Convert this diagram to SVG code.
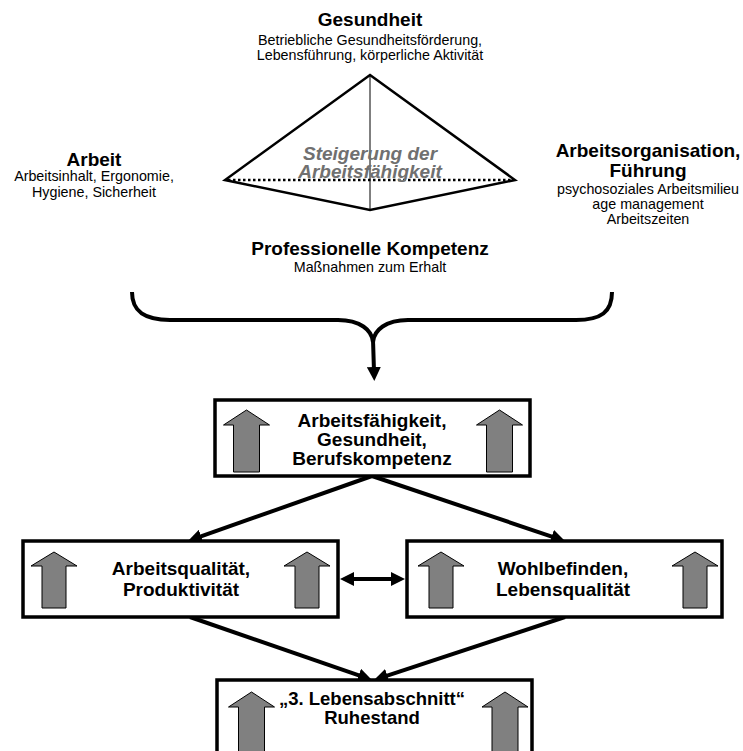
<svg xmlns="http://www.w3.org/2000/svg" xmlns:xlink="http://www.w3.org/1999/xlink" width="743" height="751" viewBox="0 0 743 751">
<style>
text{font-family:"Liberation Sans",Arial,sans-serif;text-anchor:middle;fill:#000}
.h{font-weight:bold;font-size:19px}
.s{font-size:14.3px}
.b{font-weight:bold;font-size:19px}
.st{font-weight:bold;font-style:italic;font-size:19px;fill:#707070}
.box{fill:#fff;stroke:#000;stroke-width:3.5}
.con{fill:none;stroke:#000;stroke-width:4}
.ga{fill:#808080;stroke:#000;stroke-width:1}
</style>
<defs>
<marker id="ah" viewBox="0 0 14 14" refX="4" refY="7" markerWidth="14" markerHeight="14" markerUnits="userSpaceOnUse" orient="auto-start-reverse">
<path d="M0,0 L14,7 L0,14 Z" fill="#000"/>
</marker>
<path id="upM" class="ga" d="M0,0 L23,14 L12,14 L12,56 L-12,56 L-12,14 L-23,14 Z"/>
<path id="upL" class="ga" d="M0,0 L23,15 L13,15 L13,62 L-13,62 L-13,15 L-23,15 Z"/>
</defs>
<rect width="743" height="751" fill="#fff"/>

<g id="pyramid">
<path d="M370,75 L515,180 L370,210 L225,180 Z" fill="none" stroke="#000" stroke-width="2.5" stroke-linejoin="miter"/>
<line x1="370" y1="75" x2="370" y2="210" stroke="#000" stroke-width="1"/>
<line x1="228" y1="180" x2="512" y2="180" stroke="#000" stroke-width="2.5" stroke-dasharray="2.5 2.5"/>
<text class="st" x="370" y="160">Steigerung der</text>
<text class="st" x="370" y="178">Arbeitsfähigkeit</text>
</g>

<g id="gesundheit">
<text class="h" x="370" y="26">Gesundheit</text>
<text class="s" x="370" y="45">Betriebliche Gesundheitsförderung,</text>
<text class="s" x="370" y="60">Lebensführung, körperliche Aktivität</text>
</g>

<g id="arbeit">
<text class="h" x="94" y="166">Arbeit</text>
<text class="s" x="94" y="181">Arbeitsinhalt, Ergonomie,</text>
<text class="s" x="94" y="197">Hygiene, Sicherheit</text>
</g>

<g id="arbeitsorganisation">
<text class="h" x="648" y="157">Arbeitsorganisation,</text>
<text class="h" x="648" y="177">Führung</text>
<text class="s" x="648" y="194">psychosoziales Arbeitsmilieu</text>
<text class="s" x="648" y="209">age management</text>
<text class="s" x="648" y="224">Arbeitszeiten</text>
</g>

<g id="kompetenz">
<text class="h" x="370" y="255">Professionelle Kompetenz</text>
<text class="s" x="370" y="272">Maßnahmen zum Erhalt</text>
</g>

<g id="connectors">
<path class="con" d="M132,292 C132,312 145,320 170,320 L338,320 C360,320 372,330 373,342 C374,330 386,320 408,320 L576,320 C601,320 612,312 612,292"/>
<line class="con" x1="373" y1="340" x2="374" y2="371" marker-end="url(#ah)"/>
<line class="con" x1="372" y1="476" x2="197.4" y2="537.7" marker-end="url(#ah)"/>
<line class="con" x1="372" y1="476" x2="555.5" y2="537.8" marker-end="url(#ah)"/>
<line class="con" x1="190" y1="617" x2="362.5" y2="676.7" marker-end="url(#ah)"/>
<line class="con" x1="565" y1="617" x2="383.5" y2="676.9" marker-end="url(#ah)"/>
<line class="con" x1="350" y1="579" x2="395" y2="579" marker-start="url(#ah)" marker-end="url(#ah)"/>
</g>

<g id="box-arbeitsfaehigkeit">
<rect class="box" x="215" y="400" width="315" height="76"/>
<use xlink:href="#upL" x="246.5" y="410"/>
<use xlink:href="#upL" x="499.5" y="410"/>
<text class="b" x="372" y="427">Arbeitsfähigkeit,</text>
<text class="b" x="372" y="446">Gesundheit,</text>
<text class="b" x="372" y="465">Berufskompetenz</text>
</g>

<g id="box-arbeitsqualitaet">
<rect class="box" x="23" y="541" width="315" height="76"/>
<use xlink:href="#upM" x="54" y="552"/>
<use xlink:href="#upM" x="307" y="552"/>
<text class="b" x="181" y="575">Arbeitsqualität,</text>
<text class="b" x="181" y="596">Produktivität</text>
</g>

<g id="box-wohlbefinden">
<rect class="box" x="407" y="541" width="315" height="76"/>
<use xlink:href="#upM" x="441" y="552"/>
<use xlink:href="#upM" x="695" y="552"/>
<text class="b" x="563" y="575">Wohlbefinden,</text>
<text class="b" x="563" y="596">Lebensqualität</text>
</g>

<g id="box-ruhestand">
<rect class="box" x="217" y="680" width="315" height="90"/>
<use xlink:href="#upL" x="251.5" y="692"/>
<use xlink:href="#upL" x="505" y="692"/>
<text class="b" x="372" y="705" style="font-size:18.5px">„3. Lebensabschnitt“</text>
<text class="b" x="372" y="724" style="font-size:18.5px">Ruhestand</text>
</g>
</svg>
